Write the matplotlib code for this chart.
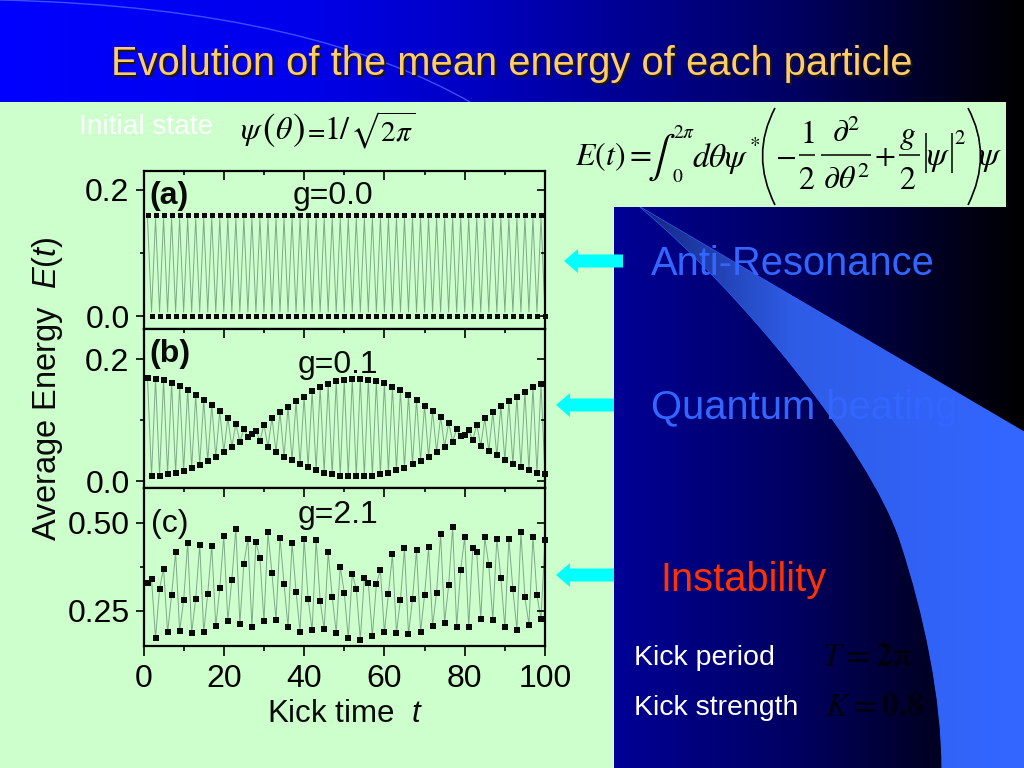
"""Slide recreation: mean energy of each particle under periodic kicks."""

import matplotlib
matplotlib.use('Agg')
import matplotlib.pyplot as plt
import numpy as np
from matplotlib.patches import PathPatch, Rectangle, Polygon
from matplotlib.path import Path
from matplotlib.ticker import MultipleLocator

plt.rcParams['font.family'] = ['Liberation Sans', 'DejaVu Sans']
plt.rcParams['mathtext.fontset'] = 'custom'
plt.rcParams['mathtext.rm'] = 'Liberation Sans'
plt.rcParams['mathtext.it'] = 'Liberation Sans:italic'
plt.rcParams['mathtext.bf'] = 'Liberation Sans:bold'

W, H = 1024, 768
GREEN = '#CCFFCC'
BLUE = '#3366FF'
INK = '#0a0a0a'

kick_time = list(range(1, 101))

# panel (a): markers sit a little outside the drawn line
energy_a = [
    0.161, 0.0, 0.161, 0.0, 0.161, 0.0, 0.161, 0.0, 0.161, 0.0,
    0.161, 0.0, 0.161, 0.0, 0.161, 0.0, 0.161, 0.0, 0.161, 0.0,
    0.161, 0.0, 0.161, 0.0, 0.161, 0.0, 0.161, 0.0, 0.161, 0.0,
    0.161, 0.0, 0.161, 0.0, 0.161, 0.0, 0.161, 0.0, 0.161, 0.0,
    0.161, 0.0, 0.161, 0.0, 0.161, 0.0, 0.161, 0.0, 0.161, 0.0,
    0.161, 0.0, 0.161, 0.0, 0.161, 0.0, 0.161, 0.0, 0.161, 0.0,
    0.161, 0.0, 0.161, 0.0, 0.161, 0.0, 0.161, 0.0, 0.161, 0.0,
    0.161, 0.0, 0.161, 0.0, 0.161, 0.0, 0.161, 0.0, 0.161, 0.0,
    0.161, 0.0, 0.161, 0.0, 0.161, 0.0, 0.161, 0.0, 0.161, 0.0,
    0.161, 0.0, 0.161, 0.0, 0.161, 0.0, 0.161, 0.0, 0.161, 0.0,
]
line_a = [
    0.155, 0.007, 0.155, 0.007, 0.155, 0.007, 0.155, 0.007, 0.155, 0.007,
    0.155, 0.007, 0.155, 0.007, 0.155, 0.007, 0.155, 0.007, 0.155, 0.007,
    0.155, 0.007, 0.155, 0.007, 0.155, 0.007, 0.155, 0.007, 0.155, 0.007,
    0.155, 0.007, 0.155, 0.007, 0.155, 0.007, 0.155, 0.007, 0.155, 0.007,
    0.155, 0.007, 0.155, 0.007, 0.155, 0.007, 0.155, 0.007, 0.155, 0.007,
    0.155, 0.007, 0.155, 0.007, 0.155, 0.007, 0.155, 0.007, 0.155, 0.007,
    0.155, 0.007, 0.155, 0.007, 0.155, 0.007, 0.155, 0.007, 0.155, 0.007,
    0.155, 0.007, 0.155, 0.007, 0.155, 0.007, 0.155, 0.007, 0.155, 0.007,
    0.155, 0.007, 0.155, 0.007, 0.155, 0.007, 0.155, 0.007, 0.155, 0.007,
    0.155, 0.007, 0.155, 0.007, 0.155, 0.007, 0.155, 0.007, 0.155, 0.007,
]
energy_b = [
    .169, .008, .168, .009, .166, .012, .161, .014, .156, .017,
    .150, .022, .141, .027, .133, .033, .125, .040, .115, .048,
    .104, .056, .094, .065, .085, .073, .077, .083, .066, .093,
    .056, .104, .048, .113, .040, .122, .034, .131, .028, .139,
    .023, .148, .018, .154, .014, .159, .011, .164, .009, .166,
    .008, .168, .008, .168, .008, .167, .009, .164, .012, .161,
    .014, .155, .018, .149, .022, .141, .028, .134, .033, .124,
    .040, .115, .048, .106, .056, .096, .065, .086, .074, .076,
    .084, .067, .093, .058, .103, .049, .113, .042, .123, .034,
    .131, .028, .139, .023, .147, .018, .154, .014, .160, .011,
]
energy_c = [
    .328, .340, .173, .313, .370, .189, .295, .416, .193, .280,
    .443, .188, .284, .438, .190, .299, .435, .206, .315, .462,
    .222, .338, .483, .213, .384, .454, .205, .445, .399, .221,
    .473, .356, .225, .457, .327, .204, .443, .303, .191, .454,
    .284, .195, .451, .279, .198, .416, .290, .188, .375, .302,
    .172, .355, .312, .169, .344, .329, .178, .325, .366, .189,
    .298, .410, .188, .282, .427, .184, .284, .422, .190, .294,
    .430, .208, .302, .467, .217, .323, .487, .205, .366, .459,
    .205, .427, .416, .227, .459, .380, .225, .454, .344, .203,
    .455, .311, .197, .472, .288, .211, .460, .294, .227, .451,
]

x_ticks = [0, 20, 40, 60, 80, 100]
ticks_a = [0.0, 0.2]
ticks_b = [0.0, 0.2]
ticks_c = [0.25, 0.50]


def px_axes(fig, left, top, right, bottom):
    """Add axes from pixel edges measured from the top left of the slide."""
    return fig.add_axes([left / W, 1 - bottom / H, (right - left) / W, (bottom - top) / H])


def draw_slide(ax):
    """Background gradient, pale panels and the blue wedge."""
    stops_x = [0, 300, 470, 614, 800, 950, 1024]
    stops_b = [255, 235, 195, 150, 95, 28, 0]
    grad = np.zeros((2, W, 3))
    grad[:, :, 2] = np.interp(np.arange(W), stops_x, stops_b) / 255
    ax.imshow(grad, extent=[0, W, H, 0], aspect='auto', zorder=0)

    # faint arc in the header
    arc = Path([(0, 0), (220, 5), (370, 45), (470, 102)],
               [Path.MOVETO, Path.CURVE4, Path.CURVE4, Path.CURVE4])
    ax.add_patch(PathPatch(arc, fc='none', ec='#3a50ff', lw=1, zorder=1))

    # wedge with its fade towards the tip
    verts = [(640, 207), (1024, 432), (1024, 768), (942, 768),
             (942, 700), (925, 615), (900, 540),
             (870, 450), (740, 290), (640, 207), (640, 207)]
    codes = [Path.MOVETO, Path.LINETO, Path.LINETO, Path.LINETO,
             Path.CURVE4, Path.CURVE4, Path.CURVE4,
             Path.CURVE4, Path.CURVE4, Path.CURVE4, Path.CLOSEPOLY]
    wedge = PathPatch(Path(verts, codes), fc=BLUE, ec=BLUE, lw=0.8, zorder=1)
    ax.add_patch(wedge)
    fade = np.zeros((2, W, 3))
    xs = np.arange(W)
    fade[:, :, 0] = np.interp(xs, [640, 790, 1000], [0.08, 0.18, 0.20])
    fade[:, :, 1] = np.interp(xs, [640, 790, 1000], [0.15, 0.36, 0.40])
    fade[:, :, 2] = np.interp(xs, [640, 790, 1000], [0.50, 0.90, 1.00])
    im = ax.imshow(fade, extent=[0, W, H, 0], aspect='auto', zorder=1.1)
    im.set_clip_path(wedge)

    ax.add_patch(Rectangle((0, 102), 614, H - 102, fc=GREEN, ec='none', zorder=2))
    ax.add_patch(Rectangle((572, 102), 434, 105, fc=GREEN, ec='none', zorder=2))


def draw_arrow(ax, tip, tail, y):
    """Cyan block arrow pointing at a panel."""
    head = tip + 14
    pts = [(tip, y), (head, y - 12), (head, y - 6.5), (tail, y - 6.5),
           (tail, y + 6.5), (head, y + 6.5), (head, y + 12)]
    ax.add_patch(Polygon(pts, closed=True, fc='#00FFFF', ec='none', zorder=3))


def style_panel(ax, ylim, yticks, ymajor, yminor):
    ax.set_xlim(0, 100)
    ax.set_ylim(*ylim)
    ax.set_facecolor(GREEN)
    ax.xaxis.set_major_locator(MultipleLocator(20))
    ax.xaxis.set_minor_locator(MultipleLocator(10))
    ax.yaxis.set_major_locator(MultipleLocator(ymajor))
    ax.yaxis.set_minor_locator(MultipleLocator(yminor))
    ax.tick_params(axis='x', which='major', direction='in', top=True, bottom=False,
                   length=6.5, width=1.2, labelbottom=False)
    ax.tick_params(axis='x', which='minor', direction='in', top=True, bottom=False,
                   length=3, width=1.2)
    ax.tick_params(axis='y', which='major', direction='out', length=6, width=1.2,
                   labelsize=23, pad=4)
    ax.tick_params(axis='y', which='minor', direction='out', length=3, width=1.2)
    ax.set_yticks(yticks)
    for side in ax.spines.values():
        side.set_linewidth(1.6)
    # right side ticks point inward
    twin = ax.twinx()
    twin.set_ylim(*ylim)
    twin.yaxis.set_major_locator(MultipleLocator(ymajor))
    twin.yaxis.set_minor_locator(MultipleLocator(yminor))
    twin.tick_params(axis='y', which='major', direction='in', length=6, width=1.2, labelright=False)
    twin.tick_params(axis='y', which='minor', direction='in', length=3, width=1.2)
    for side in twin.spines.values():
        side.set_visible(False)


def plot_panel(ax, marks, line, size=4.2):
    ax.plot(kick_time, line, color='#7fa888', lw=0.7, zorder=2, clip_on=False)
    ax.plot(kick_time, marks, ls='none', marker='s', ms=size, mew=0, color=INK, zorder=3, clip_on=False)


def main():
    fig = plt.figure(figsize=(W / 100, H / 100), dpi=100)
    slide = fig.add_axes([0, 0, 1, 1])
    slide.axis('off')
    draw_slide(slide)
    slide.set_xlim(0, W)
    slide.set_ylim(H, 0)

    draw_arrow(slide, 564, 623, 261)
    draw_arrow(slide, 556, 614, 405)
    draw_arrow(slide, 556, 614, 575)

    ax_a = px_axes(fig, 143.5, 171, 545, 328.5)
    ax_b = px_axes(fig, 143.5, 328.5, 545, 488)
    ax_c = px_axes(fig, 143.5, 488, 545, 646)

    style_panel(ax_a, (-0.019, 0.230), ticks_a, 0.2, 0.1)
    style_panel(ax_b, (-0.0115, 0.251), ticks_b, 0.2, 0.1)
    style_panel(ax_c, (0.1506, 0.598), ticks_c, 0.25, 0.125)

    plot_panel(ax_a, energy_a, line_a, size=3.6)
    plot_panel(ax_b, energy_b, energy_b)
    plot_panel(ax_c, energy_c, energy_c)

    ax_a.set_yticklabels(['0.0', '0.2'])
    ax_b.set_yticklabels(['0.0', '0.2'])
    ax_c.set_yticklabels(['0.25', '0.50'])
    ax_c.set_xticks(x_ticks)
    ax_c.tick_params(axis='x', which='major', labelbottom=True, labelsize=23, pad=13)
    ax_c.tick_params(axis='x', which='both', bottom=True)
    for tick in ax_c.xaxis.get_major_ticks():
        tick.tick1line.set_marker(3)
        tick.tick1line.set_markersize(7.5)
    for tick in ax_c.xaxis.get_minor_ticks():
        tick.tick1line.set_marker(3)
        tick.tick1line.set_markersize(3.5)

    overlay = fig.add_axes([0, 0, 1, 1], zorder=10)
    overlay.set_xlim(0, W)
    overlay.set_ylim(H, 0)
    overlay.axis('off')

    def put(x, y, s, **kw):
        kw.setdefault('ha', 'center')
        kw.setdefault('va', 'center')
        overlay.text(x, y, s, **kw)

    def eq(x, y, s, size=23, **kw):
        kw.setdefault('color', 'black')
        put(x, y, s, fontsize=size, math_fontfamily='stix', **kw)

    def stroke(points, lw=1.1):
        xs, ys = zip(*points)
        overlay.plot(xs, ys, color='black', lw=lw, solid_capstyle='butt')

    title = 'Evolution of the mean energy of each particle'
    put(514, 66, title, color='#20180a', fontsize=28.7)
    put(512, 64, title, color='#FFCC66', fontsize=28.7)
    put(146, 127, 'Initial state', color='white', fontsize=20.2)

    # psi(theta) = 1 / sqrt(2 pi)
    eq(252, 133, r'$\psi$')
    eq(269, 130, r'$($', size=27)
    eq(284, 131, r'$\theta$')
    eq(298, 130, r'$)$', size=27)
    eq(315, 131, r'$=$', size=18)
    eq(331, 131, r'$1$')
    eq(345, 131, r'$/$')
    eq(383, 130, r'$\sqrt{2\pi}$', size=21)

    # E(t) = integral ... written out piece by piece for the tall brackets
    eq(613, 157, r'$E(t)=$', size=23)
    eq(661, 157, r'$\int$', size=30)
    eq(684, 133, r'$2\pi$', size=14)
    eq(678, 177, r'$0$', size=14)
    eq(721, 158, r'$d\theta\psi$', size=24)
    eq(755, 143, r'$*$', size=15)
    arc_l = Path([(775, 108), (750, 155), (775, 205)], [Path.MOVETO, Path.CURVE3, Path.CURVE3])
    arc_r = Path([(968, 108), (993, 155), (968, 205)], [Path.MOVETO, Path.CURVE3, Path.CURVE3])
    overlay.add_patch(PathPatch(arc_l, fc='none', ec='black', lw=1.2))
    overlay.add_patch(PathPatch(arc_r, fc='none', ec='black', lw=1.2))
    eq(785, 157, r'$-$', size=22)
    eq(807, 135, r'$1$', size=23)
    stroke([(799, 154.5), (815, 154.5)])
    eq(807, 181, r'$2$', size=23)
    eq(846, 134, r'$\partial^2$', size=23)
    stroke([(821, 154.5), (871, 154.5)])
    eq(846, 181, r'$\partial\theta^2$', size=23)
    eq(885, 157, r'$+$', size=22)
    eq(908, 137, r'$g$', size=23)
    stroke([(899, 154.5), (920, 154.5)])
    eq(908, 181, r'$2$', size=23)
    stroke([(926, 133), (926, 173)])
    eq(938, 158, r'$\psi$', size=24)
    stroke([(952, 133), (952, 173)])
    eq(960, 139, r'$2$', size=15)
    eq(990, 158, r'$\psi$', size=24)

    put(169, 196, '(a)', fontsize=23, fontweight='bold', color=INK)
    put(333, 196, 'g=0.0', fontsize=23, color=INK)
    put(170, 354, '(b)', fontsize=23, fontweight='bold', color=INK)
    put(338, 365, 'g=0.1', fontsize=23, color=INK)
    put(170, 524, '(c)', fontsize=23, color=INK)
    put(338, 515, 'g=2.1', fontsize=23, color=INK)

    put(48, 389, r'Average Energy  $E(t)$', fontsize=23.5, rotation=90, color=INK)
    put(345, 714, r'Kick time  $t$', fontsize=22.5, color=INK)

    put(651, 264, 'Anti-Resonance', ha='left', color=BLUE, fontsize=28.7)
    put(651, 408, 'Quantum beating', ha='left', color=BLUE, fontsize=28.7)
    put(660, 580, 'Instability', ha='left', color='#FF3300', fontsize=28.7)
    put(634, 658, 'Kick period', ha='left', color='white', fontsize=20.5)
    put(634, 708, 'Kick strength', ha='left', color='white', fontsize=20.5)
    eq(868, 657, r'$\mathbf{\mathit{T}=2\pi}$', size=24, color='#000010')
    eq(875, 708, r'$\mathbf{\mathit{K}=0.8}$', size=24, color='#000010')

    fig.savefig('out.png', dpi=100)


if __name__ == '__main__':
    main()
